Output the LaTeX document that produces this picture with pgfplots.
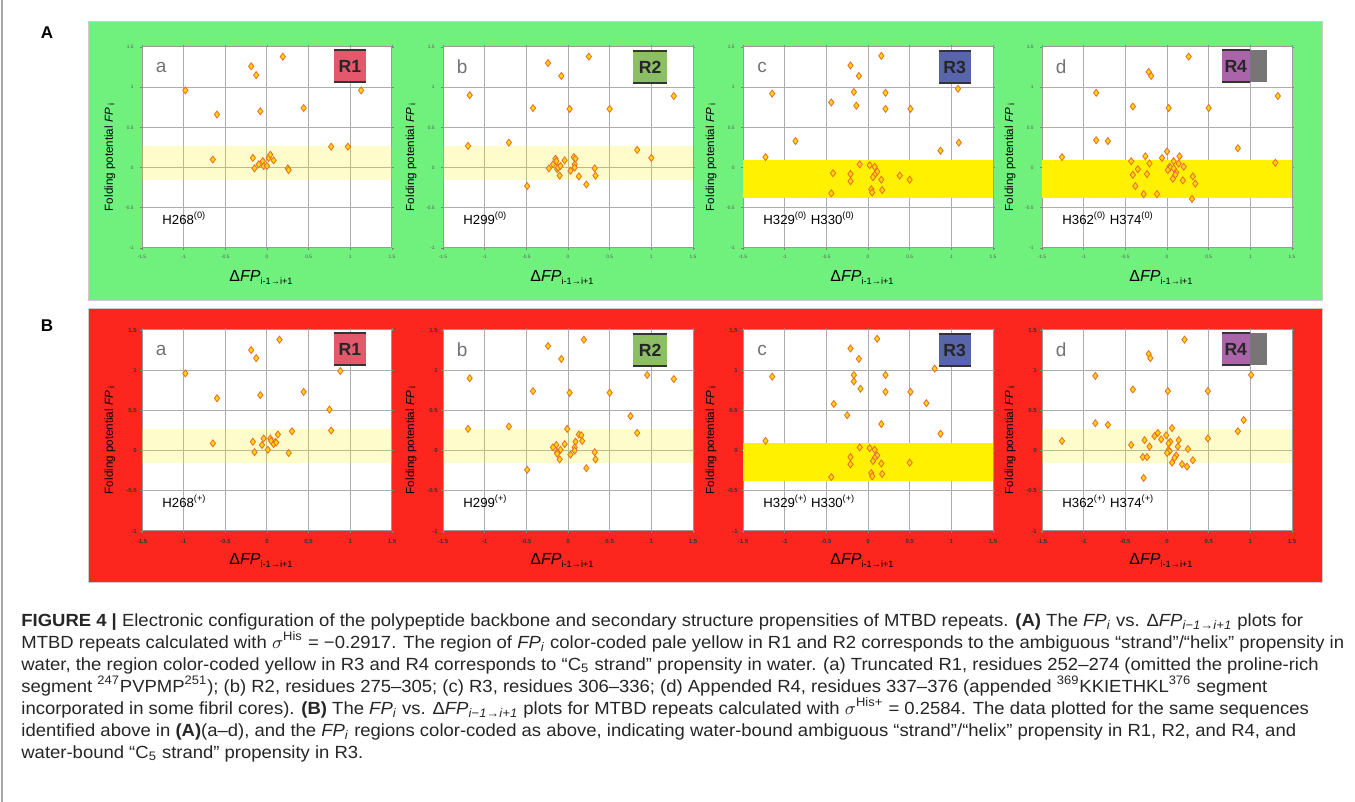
\documentclass[border=0pt]{standalone}
\usepackage{fontspec}
\setmainfont{Liberation Sans}
\newfontfamily\capfont[FakeStretch=1.05]{Liberation Sans}
\usepackage{pgfplots}
\pgfplotsset{compat=1.18}

\definecolor{pgreen}{RGB}{112,240,124}
\definecolor{pred}{RGB}{252,38,30}
\definecolor{brighty}{RGB}{255,241,0}
\definecolor{mkfill}{RGB}{255,214,0}
\definecolor{mkdraw}{RGB}{232,108,48}
\definecolor{rone}{RGB}{228,88,108}
\definecolor{rtwo}{RGB}{140,190,100}
\definecolor{rthree}{RGB}{88,100,172}
\definecolor{rfour}{RGB}{170,100,170}
\definecolor{rfourg}{RGB}{118,118,118}

\pgfplotsset{
  fpbase/.style={
    scale only axis, width=125pt, height=100.5pt,
    xmin=-1.5, xmax=1.5, ymin=-1, ymax=1.5,
    xtick={-1.5,-1,-0.5,0,0.5,1,1.5},
    xticklabels={-1.5,-1,-0.5,0,0.5,1,1.5},
    ytick={-1,-0.5,0,0.5,1,1.5},
    yticklabels={-1,-0.5,0,0.5,1,1.5},
    grid=major, major grid style={draw=black!32, line width=0.5pt},
    axis line style={draw=black!40, line width=0.5pt},
    tick align=outside, major tick length=1pt,
    tick style={draw=black!50, line width=0.4pt},
    axis background/.style={fill=white},
    ticklabel style={inner sep=0.4pt},
    xlabel={\fontsize{8}{8}\selectfont Δ\textit{FP}\raisebox{-1.4pt}{\fontsize{4.6}{5}\selectfont i-1→i+1}},
    ylabel={\fontsize{5.8}{6}\selectfont Folding potential \textit{FP}\,\raisebox{-0.7pt}{\fontsize{4.5}{5}\selectfont i}},
    every axis x label/.style={at={(axis description cs:0.476,-0.145)}, anchor=center},
    every axis y label/.style={at={(axis description cs:-0.128,0.45)}, anchor=center, rotate=90},
  },
  rowA/.style={
    xticklabel style={font=\fontsize{2.4}{2.5}\selectfont, text=black!65, yshift=-2.2pt},
    yticklabel style={font=\fontsize{2.4}{2.5}\selectfont, text=black!65, xshift=-2.6pt},
  },
  rowB/.style={
    xticklabel style={font=\bfseries\fontsize{3}{3.2}\selectfont, text=black!80, yshift=-2.4pt},
    yticklabel style={font=\bfseries\fontsize{3}{3.2}\selectfont, text=black!80, xshift=-1.1pt},
  },
  fpmark/.style={only marks, mark=diamond*, mark size=1.75pt,
    mark options={fill=mkfill, draw=mkdraw, line width=0.4pt}},
}

\newcommand{\paleband}{\fill[brighty, fill opacity=0.2] (axis cs:-1.5,-0.15) rectangle (axis cs:1.5,0.27);}
\newcommand{\yelband}{\fill[brighty] (axis cs:-1.5,-0.38) rectangle (axis cs:1.5,0.09);}
\newcommand{\panelletter}[1]{\node[text=black!55, font=\fontsize{9.5}{10}\selectfont] at (axis cs:-1.27,1.25) {#1};}
\newcommand{\hlabel}[1]{\node[anchor=base west, inner sep=0pt, font=\fontsize{6.6}{7}\selectfont] at (axis cs:-1.26,-0.71) {#1};}
% color, x1, x2, y1, y2, xc, yc, text
\newcommand{\rbox}[8]{%
  \fill[#1] (axis cs:#2,#4) rectangle (axis cs:#3,#5);
  \draw[line width=0.9pt, black!80] (axis cs:#2,#5) -- (axis cs:#3,#5) (axis cs:#2,#4) -- (axis cs:#3,#4);
  \node[font=\bfseries\fontsize{8.8}{9}\selectfont, text=black!85] at (axis cs:#6,#7) {#8};}
\newcommand{\rfourbox}{%
  \fill[rfourg] (axis cs:0.99,1.06) rectangle (axis cs:1.20,1.46);
  \rbox{rfour}{0.66}{0.99}{1.06}{1.46}{0.825}{1.26}{R4}}

\begin{document}
\begin{tikzpicture}[x=0.5pt,y=0.5pt]
\path[use as bounding box] (0,0) rectangle (1355,802);
\fill[white] (0,0) rectangle (1355,802);
\draw[black!35, line width=0.8pt] (2,0) -- (2,802);
\fill[pgreen, draw=black!20, line width=0.5pt] (88,501) rectangle (1322,780);
\fill[pred, draw=black!20, line width=0.5pt] (88,219) rectangle (1322,493);
\node[font=\bfseries\fontsize{8.5}{9}\selectfont] at (47,769) {A};
\node[font=\bfseries\fontsize{8.5}{9}\selectfont] at (47,476) {B};

% ---------- Row A ----------
\begin{axis}[fpbase, rowA, at={(71pt,377.5pt)}, anchor=north west]
\paleband
\rbox{rone}{0.80}{1.19}{1.06}{1.46}{0.995}{1.26}{R1}
\panelletter{a}
\hlabel{H268\textsuperscript{(0)}}
\addplot[fpmark] coordinates {(0.19,1.38) (-0.19,1.26) (-0.13,1.15) (-0.98,0.96) (1.13,0.96) (-0.08,0.70) (0.44,0.74) (-0.60,0.66) (0.77,0.26) (0.97,0.26) (-0.65,0.10) (-0.17,0.12) (-0.15,-0.01) (-0.10,0.04) (-0.05,0.08) (-0.04,0.02) (0.00,0.02) (0.02,0.12) (0.04,0.16) (0.08,0.09) (0.25,-0.01) (0.26,-0.03)};
\end{axis}

\begin{axis}[fpbase, rowA, at={(221.5pt,377.5pt)}, anchor=north west]
\paleband
\rbox{rtwo}{0.78}{1.19}{1.05}{1.45}{0.985}{1.25}{R2}
\panelletter{b}
\hlabel{H299\textsuperscript{(0)}}
\addplot[fpmark] coordinates {(0.25,1.38) (-0.24,1.30) (-0.08,1.14) (-1.18,0.90) (1.27,0.89) (-0.42,0.74) (0.02,0.73) (0.50,0.73) (-1.20,0.27) (-0.71,0.31) (0.83,0.22) (1.00,0.12) (-0.15,0.11) (-0.14,0.08) (-0.18,0.04) (-0.23,-0.01) (-0.13,-0.02) (-0.12,0.00) (-0.09,0.02) (-0.10,-0.10) (-0.04,0.09) (0.07,0.13) (0.09,0.11) (0.08,0.04) (0.08,0.00) (0.03,-0.04) (0.13,-0.11) (0.32,-0.01) (0.33,-0.10) (0.22,-0.21) (-0.49,-0.23)};
\end{axis}

\begin{axis}[fpbase, rowA, at={(371.5pt,377.5pt)}, anchor=north west]
\yelband
\rbox{rthree}{0.85}{1.23}{1.05}{1.45}{1.04}{1.25}{R3}
\panelletter{c}
\hlabel{H329\textsuperscript{(0)} H330\textsuperscript{(0)}}
\addplot[fpmark] coordinates {(0.16,1.39) (-0.21,1.27) (-0.11,1.14) (-1.15,0.92) (-0.17,0.94) (0.21,0.93) (1.08,0.98) (-0.44,0.81) (-0.14,0.77) (0.21,0.73) (0.51,0.73) (-0.87,0.33) (1.09,0.31) (0.87,0.21) (-1.23,0.13) (-0.10,0.04) (0.02,0.03) (0.08,0.01) (0.11,-0.05) (0.08,-0.09) (0.06,-0.12) (-0.42,-0.07) (-0.21,-0.08) (-0.21,-0.17) (0.16,-0.15) (0.38,-0.10) (0.50,-0.15) (0.04,-0.27) (0.05,-0.31) (0.17,-0.28) (-0.44,-0.32)};
\end{axis}

\begin{axis}[fpbase, rowA, at={(521pt,377.5pt)}, anchor=north west]
\yelband
\rfourbox
\panelletter{d}
\hlabel{H362\textsuperscript{(0)} H374\textsuperscript{(0)}}
\addplot[fpmark] coordinates {(0.26,1.38) (-0.22,1.19) (-0.19,1.14) (-0.85,0.93) (1.33,0.89) (-0.41,0.76) (0.02,0.74) (0.50,0.74) (-0.85,0.34) (-0.71,0.33) (0.85,0.24) (-1.26,0.13) (1.30,0.06) (0.00,0.20) (-0.26,0.14) (-0.06,0.12) (0.15,0.14) (-0.43,0.08) (-0.21,0.05) (0.08,0.08) (0.14,0.05) (0.03,0.01) (0.04,0.00) (0.08,-0.01) (0.20,0.01) (-0.35,-0.02) (0.01,-0.03) (0.11,-0.06) (0.10,-0.09) (-0.41,-0.09) (-0.24,-0.08) (0.07,-0.14) (0.19,-0.16) (0.31,-0.11) (0.34,-0.20) (-0.38,-0.23) (-0.28,-0.33) (-0.12,-0.33) (0.30,-0.39)};
\end{axis}

% ---------- Row B ----------
\begin{axis}[fpbase, rowB, at={(71pt,236pt)}, anchor=north west]
\paleband
\rbox{rone}{0.80}{1.19}{1.06}{1.46}{0.995}{1.26}{R1}
\panelletter{a}
\hlabel{H268\textsuperscript{(+)}}
\addplot[fpmark] coordinates {(0.15,1.38) (-0.19,1.25) (-0.13,1.15) (-0.98,0.96) (0.88,0.99) (-0.08,0.69) (0.44,0.73) (-0.60,0.65) (0.75,0.51) (0.77,0.25) (0.30,0.24) (-0.65,0.09) (-0.17,0.11) (-0.15,-0.02) (-0.06,0.07) (-0.04,0.15) (0.04,0.15) (0.05,0.12) (0.13,0.20) (0.10,0.11) (0.08,0.08) (0.11,0.10) (0.01,0.01) (0.26,-0.03)};
\end{axis}

\begin{axis}[fpbase, rowB, at={(221.5pt,236pt)}, anchor=north west]
\paleband
\rbox{rtwo}{0.78}{1.19}{1.05}{1.45}{0.985}{1.25}{R2}
\panelletter{b}
\hlabel{H299\textsuperscript{(+)}}
\addplot[fpmark] coordinates {(0.19,1.38) (-0.24,1.30) (-0.08,1.14) (-1.18,0.90) (0.95,0.94) (1.27,0.89) (-0.42,0.74) (0.02,0.72) (0.50,0.72) (0.75,0.43) (-1.20,0.27) (-0.71,0.30) (-0.01,0.27) (0.83,0.22) (0.13,0.20) (0.16,0.19) (0.17,0.12) (0.09,0.11) (-0.04,0.08) (-0.14,0.07) (-0.18,0.04) (0.08,0.04) (0.08,0.00) (-0.09,0.01) (-0.13,-0.02) (-0.13,-0.04) (0.03,-0.05) (-0.10,-0.11) (0.32,-0.02) (0.33,-0.11) (0.22,-0.22) (-0.49,-0.24)};
\end{axis}

\begin{axis}[fpbase, rowB, at={(371.5pt,236pt)}, anchor=north west]
\yelband
\rbox{rthree}{0.85}{1.23}{1.05}{1.45}{1.04}{1.25}{R3}
\panelletter{c}
\hlabel{H329\textsuperscript{(+)} H330\textsuperscript{(+)}}
\addplot[fpmark] coordinates {(0.11,1.39) (-0.21,1.27) (-0.11,1.14) (-1.15,0.92) (0.80,1.02) (-0.17,0.94) (0.21,0.94) (-0.17,0.86) (-0.09,0.77) (0.21,0.73) (0.51,0.73) (0.70,0.59) (-0.41,0.58) (-0.25,0.44) (0.16,0.33) (0.87,0.21) (-1.23,0.12) (-0.10,0.04) (0.02,0.03) (0.08,0.01) (0.11,-0.06) (0.08,-0.09) (0.06,-0.13) (-0.21,-0.08) (-0.21,-0.17) (0.16,-0.16) (0.50,-0.15) (0.04,-0.28) (0.05,-0.32) (0.17,-0.29) (-0.44,-0.33)};
\end{axis}

\begin{axis}[fpbase, rowB, at={(521pt,236pt)}, anchor=north west]
\paleband
\rfourbox
\panelletter{d}
\hlabel{H362\textsuperscript{(+)} H374\textsuperscript{(+)}}
\addplot[fpmark] coordinates {(0.21,1.38) (-0.22,1.20) (-0.20,1.15) (-0.86,0.93) (1.01,0.94) (-0.41,0.76) (0.01,0.74) (0.49,0.74) (0.92,0.38) (-0.86,0.34) (-0.71,0.32) (0.85,0.24) (-1.26,0.12) (0.06,0.28) (-0.11,0.22) (-0.15,0.18) (-0.01,0.19) (-0.07,0.14) (-0.27,0.13) (0.14,0.13) (0.49,0.15) (0.04,0.11) (0.02,0.09) (-0.43,0.07) (-0.21,0.05) (0.13,0.05) (0.25,0.02) (0.02,0.01) (0.03,-0.01) (0.00,-0.03) (0.11,-0.06) (0.09,-0.09) (-0.29,-0.08) (-0.24,-0.08) (0.06,-0.15) (0.18,-0.17) (0.31,-0.12) (0.24,-0.20) (-0.28,-0.34)};
\end{axis}

% ---------- Caption ----------
\begin{scope}[every node/.style={anchor=base west, inner sep=0pt, text=black!85, font=\capfont\fontsize{8.8}{11}\selectfont}]
\node at (21,175.5) {\textbf{FIGURE 4 |} Electronic configuration of the polypeptide backbone and secondary structure propensities of MTBD repeats. \textbf{(A)} The \textit{FP}\textsubscript{\textit{i}} vs. Δ\textit{FP}\textsubscript{\textit{i}−\textit{1}→\textit{i}+\textit{1}} plots for};
\node at (21,153.5) {MTBD repeats calculated with $\sigma$\textsuperscript{His} = −0.2917. The region of \textit{FP}\textsubscript{\textit{i}} color-coded pale yellow in R1 and R2 corresponds to the ambiguous “strand”/“helix” propensity in};
\node at (21,131.5) {water, the region color-coded yellow in R3 and R4 corresponds to “C\textsubscript{5} strand” propensity in water. (a) Truncated R1, residues 252–274 (omitted the proline-rich};
\node at (21,109.5) {segment \textsuperscript{247}PVPMP\textsuperscript{251}); (b) R2, residues 275–305; (c) R3, residues 306–336; (d) Appended R4, residues 337–376 (appended \textsuperscript{369}KKIETHKL\textsuperscript{376} segment};
\node at (21,87.5) {incorporated in some fibril cores). \textbf{(B)} The \textit{FP}\textsubscript{\textit{i}} vs. Δ\textit{FP}\textsubscript{\textit{i}−\textit{1}→\textit{i}+\textit{1}} plots for MTBD repeats calculated with $\sigma$\textsuperscript{His+} = 0.2584. The data plotted for the same sequences};
\node at (21,65.5) {identified above in \textbf{(A)}(a–d), and the \textit{FP}\textsubscript{\textit{i}} regions color-coded as above, indicating water-bound ambiguous “strand”/“helix” propensity in R1, R2, and R4, and};
\node at (21,43.5) {water-bound “C\textsubscript{5} strand” propensity in R3.};
\end{scope}
\end{tikzpicture}
\end{document}
